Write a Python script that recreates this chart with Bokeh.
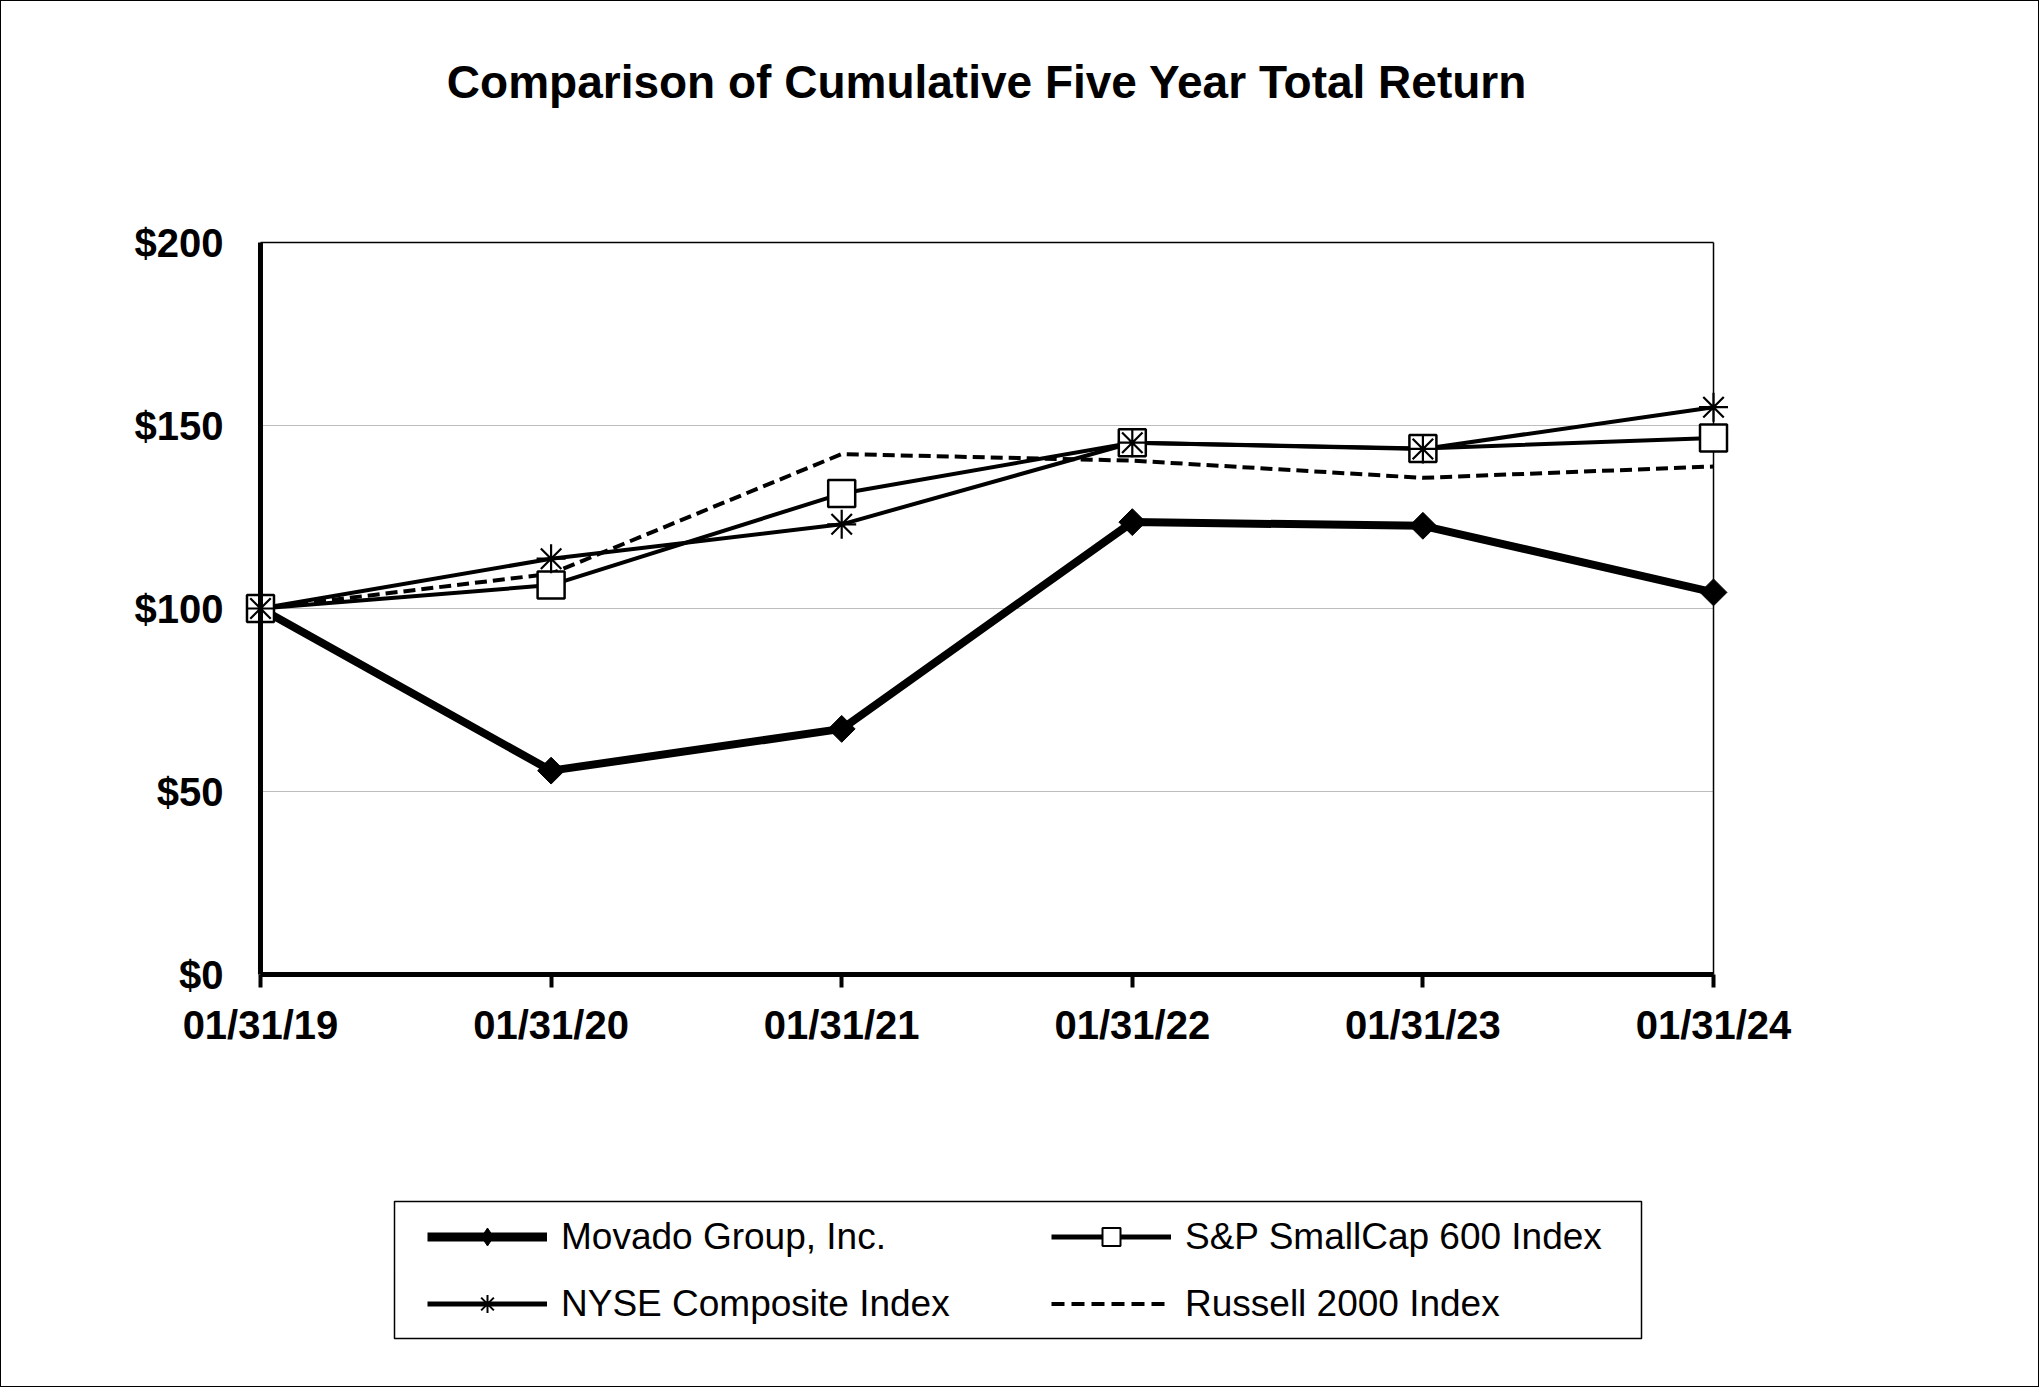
import numpy as np
from bokeh.plotting import figure
from bokeh.layouts import column
from bokeh.models import (Range1d, FixedTicker, Legend, LegendItem,
                          GlobalInlineStyleSheet)
from bokeh.embed import file_html
from bokeh.resources import INLINE

# ---- data ----
dates = ["01/31/19", "01/31/20", "01/31/21", "01/31/22", "01/31/23", "01/31/24"]
movado = [100, 55.7, 67.1, 123.6, 122.6, 104.4]
sp600 = [100, 106.4, 131.4, 145.3, 143.7, 146.6]
nyse = [100, 113.6, 123.0, 145.3, 143.6, 155.0]
russell = [100, 109.5, 142.2, 140.4, 135.7, 138.8]
y_ticks = [0, 50, 100, 150, 200]
y_labels = ["$0", "$50", "$100", "$150", "$200"]
series_names = ["Movado Group, Inc.", "S&P SmallCap 600 Index",
                "NYSE Composite Index", "Russell 2000 Index"]
title_text = "Comparison of Cumulative Five Year Total Return"

FONT = "Liberation Sans"
W, H = 2039, 1387
H1 = 1150                 # chart part
H2 = H - H1               # legend part
FL, FR = 230, 1743        # frame left / right (pixels)

xs = list(range(len(dates)))
pad = 0.1032
k = 732 / 200.0           # px per y unit
y_lo = -11 / k
y_hi = y_ticks[-1] + 242 / k

# ---------------- chart figure ----------------
p = figure(width=W, height=H1, output_backend="svg", toolbar_location=None,
           title=None,
           x_range=Range1d(-pad, xs[-1] + pad), y_range=Range1d(y_lo, y_hi),
           min_border_left=FL, min_border_right=W - FR, min_border_top=0,
           min_border_bottom=H1 - 985)
p.outline_line_color = None
p.xgrid.visible = False
p.ygrid.visible = False
p.background_fill_color = "white"
p.border_fill_color = "white"

# title
p.text(x=[(xs[0] + xs[-1]) / 2], y=[y_ticks[-1] + (242 - 81) / k], text=[title_text],
       text_align="center", text_baseline="middle", text_color="black",
       text_font={"value": FONT}, text_font_size="46px", text_font_style="bold")

# gridlines and plot-area frame
inner = y_ticks[1:-1]
p.segment(x0=[xs[0]] * len(inner), x1=[xs[-1]] * len(inner), y0=inner, y1=inner,
          line_color="#bdbdbd", line_width=1.2)
p.segment(x0=[xs[0]], x1=[xs[-1]], y0=[y_ticks[-1]], y1=[y_ticks[-1]],
          line_color="black", line_width=1.5)
p.segment(x0=[xs[-1]], x1=[xs[-1]], y0=[y_ticks[0]], y1=[y_ticks[-1]],
          line_color="black", line_width=1.5)

# series
p.line(xs, movado, line_color="black", line_width=8)
p.scatter(xs, movado, marker="square", angle=np.pi / 4, size=19,
          fill_color="black", line_color="black")
p.line(xs, russell, line_color="black", line_width=4, line_dash="12 6")
p.line(xs, sp600, line_color="black", line_width=4)
p.line(xs, nyse, line_color="black", line_width=4)
p.scatter(xs, sp600, marker="square", size=27, fill_color="white",
          line_color="black", line_width=2.5)
p.scatter(xs, nyse, marker="asterisk", size=29, line_color="black", line_width=2.2)

# thick axis lines
p.segment(x0=[xs[0]], x1=[xs[0]], y0=[y_ticks[0]], y1=[y_ticks[-1]],
          line_color="black", line_width=5)
p.segment(x0=[xs[0]], x1=[xs[-1]], y0=[y_ticks[0]], y1=[y_ticks[0]],
          line_color="black", line_width=5)

# axes
xa = p.xaxis[0]
xa.ticker = FixedTicker(ticks=xs)
xa.major_label_overrides = {i: d for i, d in enumerate(dates)}
xa.axis_line_color = None
xa.major_tick_in = 11
xa.major_tick_out = 2
xa.major_tick_line_width = 4
xa.major_tick_line_color = "black"
xa.minor_tick_line_color = None
xa.major_label_standoff = 15
xa.major_label_text_font = FONT
xa.major_label_text_font_style = "bold"
xa.major_label_text_font_size = "40px"
xa.major_label_text_color = "black"

ya = p.yaxis[0]
ya.ticker = FixedTicker(ticks=y_ticks)
ya.major_label_overrides = {t: l for t, l in zip(y_ticks, y_labels)}
ya.axis_line_color = None
ya.major_tick_line_color = None
ya.minor_tick_line_color = None
ya.major_tick_in = 0
ya.major_tick_out = 0
ya.major_label_standoff = 7
ya.major_label_text_font = FONT
ya.major_label_text_font_style = "bold"
ya.major_label_text_font_size = "40px"
ya.major_label_text_color = "black"

# ---------------- legend figure ----------------
q = figure(width=W, height=H2, output_backend="svg", toolbar_location=None,
           title=None, x_range=Range1d(FL, FR), y_range=Range1d(H2, 0),
           x_axis_location=None, y_axis_location=None,
           min_border_left=FL, min_border_right=W - FR,
           min_border_top=0, min_border_bottom=0)
q.outline_line_color = None
q.xgrid.visible = False
q.ygrid.visible = False
q.background_fill_color = "white"
q.border_fill_color = "white"

# legend frame box
q.quad(left=[394], right=[1641], top=[1201 - H1], bottom=[1338 - H1],
       fill_alpha=0, line_color="black", line_width=1.5)

# legend proxies (one NaN point each, so nothing shows in the plot area)
nan = np.array([np.nan])
lm_l = q.line(nan, nan, line_color="black", line_width=9)
lm_p = q.scatter(nan, nan, marker="diamond", size=26, fill_color="black",
                 line_color="black")
ls_l = q.line(nan, nan, line_color="black", line_width=5)
ls_p = q.scatter(nan, nan, marker="square", size=17, fill_color="white",
                 line_color="black", line_width=2)
ln_l = q.line(nan, nan, line_color="black", line_width=5)
ln_p = q.scatter(nan, nan, marker="asterisk", size=22, line_color="black",
                 line_width=2)
lr_l = q.line(nan, nan, line_color="black", line_width=4, line_dash="13 7")

common = dict(orientation="vertical", glyph_width=120, glyph_height=45,
              label_height=45, label_standoff=14, spacing=22, padding=0,
              margin=0, border_line_color=None, background_fill_alpha=0,
              label_text_font=FONT, label_text_font_size="37px",
              label_text_color="black", label_text_baseline="middle")
ly = H2 - (1214 - H1) - 112
leg1 = Legend(items=[LegendItem(label=series_names[0], renderers=[lm_l, lm_p]),
                     LegendItem(label=series_names[2], renderers=[ln_l, ln_p])],
              location=(427 - FL, ly), **common)
leg2 = Legend(items=[LegendItem(label=series_names[1], renderers=[ls_l, ls_p]),
                     LegendItem(label=series_names[3], renderers=[lr_l])],
              location=(1051 - FL, ly), **common)
q.add_layout(leg1, "center")
q.add_layout(leg2, "center")

layout = column(p, q, spacing=0)
layout.stylesheets = [GlobalInlineStyleSheet(css=(
    "body::after{content:'';position:fixed;left:0;top:0;width:2039px;"
    "height:1387px;box-sizing:border-box;border:1px solid #000;"
    "pointer-events:none;z-index:10000;}"))]

open("out.html", "w").write(file_html(layout, INLINE))
